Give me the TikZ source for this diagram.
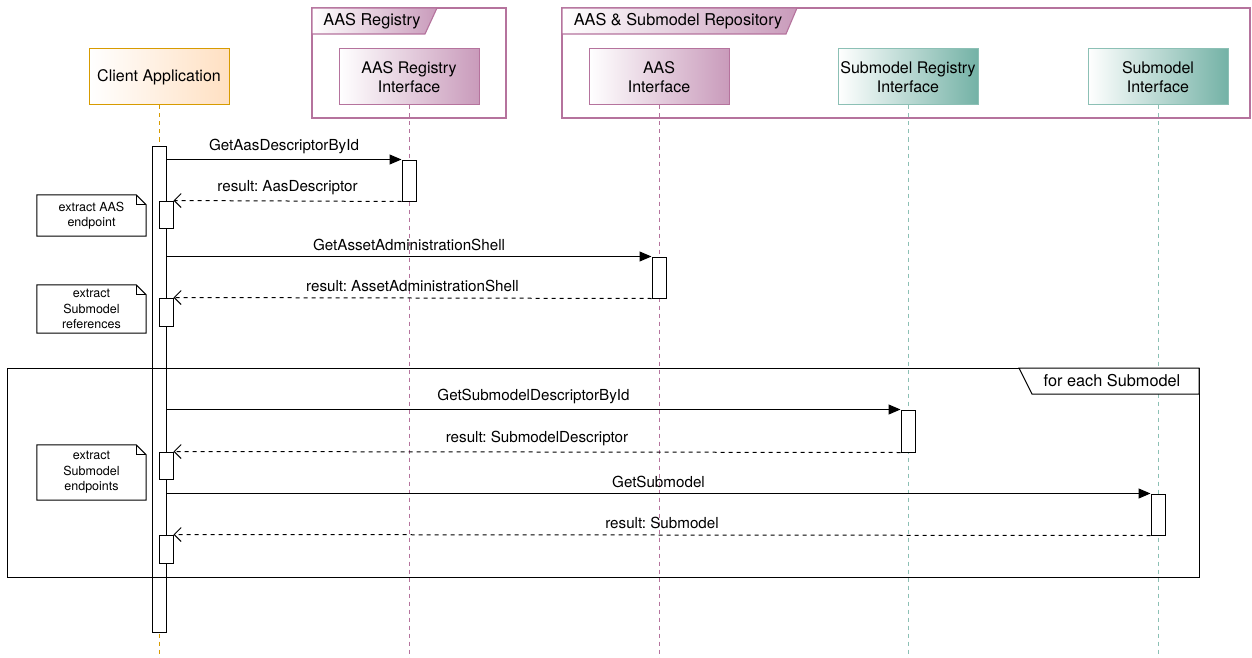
\documentclass[tikz,border=0pt]{standalone}
\usepackage{fontspec}
\setmainfont{TeX Gyre Heros}
\usetikzlibrary{arrows.meta,positioning}
\frenchspacing

\definecolor{orangeB}{HTML}{D79B00}
\definecolor{orangeF}{HTML}{FFE0C2}
\definecolor{pinkB}{HTML}{B5739D}
\definecolor{pinkF}{HTML}{C99BBB}
\definecolor{tealB}{HTML}{8CC0B5}
\definecolor{tealF}{HTML}{74B2A6}

\tikzset{
  head/.style={draw, line width=1pt, minimum width=140, minimum height=56,
    align=center, inner sep=2pt, font=\fontsize{16}{19}\selectfont},
  headO/.style={head, draw=orangeB, left color=white, right color=orangeF},
  headP/.style={head, draw=pinkB, left color=white, right color=pinkF},
  headT/.style={head, draw=tealB, left color=white, right color=tealF},
  life/.style={dash pattern=on 4pt off 4pt, line width=0.9pt},
  act/.style={draw, fill=white, line width=1pt, minimum width=14, inner sep=0pt},
  call/.style={line width=1pt, -{Triangle[length=12pt,width=10pt]}},
  ret/.style={line width=1pt, dash pattern=on 4pt off 4pt, -{Straight Barb[length=7pt,width=14pt]}},
  msg/.style={above=2pt, font=\fontsize{15.2}{18}\selectfont},
  note/.style={minimum width=109, align=center, inner sep=1pt, font=\fontsize{12.5}{15.5}\selectfont},
  frameP/.style={draw=pinkB, line width=1.1pt},
  lbl/.style={font=\fontsize{16.3}{18}\selectfont}
}

\begin{document}
\begin{tikzpicture}[x=1pt, y=-1pt]
\useasboundingbox[fill=white] (0,0) rectangle (1252,658);
\coordinate (bottom) at (0,658);

% frames
\draw[frameP] (312,8) rectangle (506,118);
\shade[left color=white, right color=pinkF, draw=pinkB, line width=1.1pt]
  (312,8) -- (437,8) -- (425,34) -- (312,34) -- cycle;
\node[lbl] (regLbl) at (372,21) {AAS Registry};
\draw[frameP] (562,8) rectangle (1250,118);
\shade[left color=white, right color=pinkF, draw=pinkB, line width=1.1pt]
  (562,8) -- (797,8) -- (786,34) -- (562,34) -- cycle;
\node[lbl] (repoLbl) at (678,21) {AAS \& Submodel Repository};

% participants
\node[headO] (client) at (159,77) {Client Application};
\node[headP] (reg) at (409,77) {AAS Registry\\Interface};
\node[headP] (aas) at (659,77) {AAS\\Interface};
\node[headT] (smreg) at (908,77) {Submodel Registry\\Interface};
\node[headT] (sm) at (1158,77) {Submodel\\Interface};

% lifelines
\draw[life, orangeB] (client.south) -- (client.south |- bottom);
\draw[life, pinkB] (reg.south) -- (reg.south |- bottom);
\draw[life, pinkB] (aas.south) -- (aas.south |- bottom);
\draw[life, tealB] (smreg.south) -- (smreg.south |- bottom);
\draw[life, tealB] (sm.south) -- (sm.south |- bottom);

% activations
\node[act, minimum height=486] (cbar) at (159,389) {};
\node[act, minimum height=41] (a1) at (409,180.5) {};
\node[act, minimum height=27] (c1) at (166,214.5) {};
\node[act, minimum height=41] (a2) at (659,277.5) {};
\node[act, minimum height=28] (c2) at (166,312) {};
\node[act, minimum height=42] (a3) at (908,431) {};
\node[act, minimum height=27] (c3) at (166,465.5) {};
\node[act, minimum height=41] (a4) at (1158,514.5) {};
\node[act, minimum height=28] (c4) at (166,549) {};

% loop
\draw[line width=1pt] (7,368) rectangle (1199,577);
\draw[line width=1pt, fill=white] (1019,368) -- (1032,394) -- (1199,394) -- (1199,368) -- cycle;
\node[lbl] (loopLbl) at (1112,381) {for each Submodel};

% messages
\draw[call] (cbar.east |- a1.north) -- node[msg] {GetAasDescriptorById} (a1.north west);
\draw[ret] (a1.south west) -- node[msg] {result: AasDescriptor} (c1.north east);
\draw[call] (cbar.east |- a2.north) -- node[msg] {GetAssetAdministrationShell} (a2.north west);
\draw[ret] (a2.south west) -- node[msg] {result: AssetAdministrationShell} (c2.north east);
\draw[call] (cbar.east |- a3.north) -- node[msg] {GetSubmodelDescriptorById} (a3.north west);
\draw[ret] (a3.south west) -- node[msg] {result: SubmodelDescriptor} (c3.north east);
\draw[call] (cbar.east |- a4.north) -- node[msg] {GetSubmodel} (a4.north west);
\draw[ret] (a4.south west) -- node[msg] {result: Submodel} (c4.north east);

% notes
\node[note, minimum height=41] (n1) at (91.5,215.5) {extract AAS\\endpoint};
\node[note, minimum height=48] (n2) at (91.5,309) {extract\\Submodel\\references};
\node[note, minimum height=55] (n3) at (91.5,472.5) {extract\\Submodel\\endpoints};
\foreach \n in {n1,n2,n3}{
  \draw[line width=1pt] (\n.south west) -- (\n.north west) -- ([xshift=-10pt]\n.north east)
    -- ([yshift=-10pt]\n.north east) -- (\n.south east) -- cycle;
  \draw[line width=1pt] ([xshift=-10pt]\n.north east) |- ([yshift=-10pt]\n.north east);
}
\end{tikzpicture}
\end{document}
